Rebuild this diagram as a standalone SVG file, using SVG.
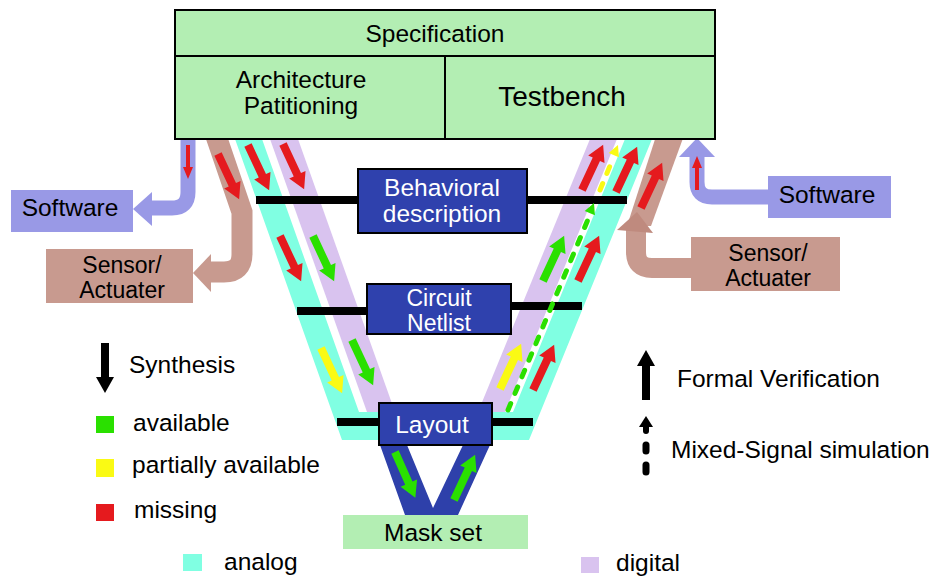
<svg xmlns="http://www.w3.org/2000/svg" width="934" height="577" viewBox="0 0 934 577">
<defs>
<style>
text{font-family:"Liberation Sans",Arial,sans-serif;font-size:24.5px;fill:#000}
.c{text-anchor:middle}
.w{fill:#fff}
.two{font-size:23px}
.box{fill:#2F41AD;stroke:#000;stroke-width:2}
.bar{fill:#000}
.red{fill:#E51A1E}
.grn{fill:#2AE000}
.yel{fill:#FAFA14}
.soft{fill:#9999E6}
.brown{fill:#C89A8F}
.ana{fill:#80FFE2}
.dig{fill:#D9C3EF}
</style>
<path id="ar" d="M-4,0H4V34H9L0,50L-9,34H-4Z"/>
<path id="sa" d="M-2,0H2V22H5L0,34L-5,22H-2Z"/>
</defs>
<rect width="934" height="577" fill="#fff"/>

<g id="bands">
<polygon class="ana" points="235,139 262,139 359,412 513,412 625,139 652,139 529,440 342,440"/>
<polygon class="dig" points="270,139 298,139 395,412 367,412"/>
<polygon class="dig" points="590,139 617,139 505,412 478,412"/>
<polygon fill="#2E40AA" points="380,445 407,445 433,508 463,445 490,445 458,515 405,515"/>
</g>

<g id="connectors">
<path d="M188,130 V192 Q188,208 172,208 H150" fill="none" stroke="#9999E6" stroke-width="15"/>
<polygon class="soft" points="152,192 152,226 133,209"/>
<path d="M214,130 L242,212 V254 Q242,272 224,272 H208" fill="none" stroke="#C89A8F" stroke-width="21"/>
<polygon class="brown" points="211,254 211,292 193,273"/>
<path d="M697,156 V182 Q697,197 712,197 H770" fill="none" stroke="#9999E6" stroke-width="15"/>
<polygon class="soft" points="679,157 715,157 697,138"/>
<polygon class="brown" points="658,130 686,130 651,226 627,226"/>
<path d="M693,268 H652 Q636,268 636,252 V230" fill="none" stroke="#C89A8F" stroke-width="20"/>
<polygon fill="#BF8A7E" points="617,230 653,233 637,212"/>
<rect class="bar" x="256" y="196" width="371" height="8"/>
<rect class="bar" x="297" y="307" width="72" height="8"/>
<rect class="bar" x="509" y="302" width="73" height="8"/>
<rect class="bar" x="337" y="418" width="196" height="8"/>
<use href="#sa" class="red" transform="translate(188,145)"/>
<use href="#ar" class="red" transform="translate(218,154) rotate(-25)"/>
<use href="#ar" class="red" transform="translate(248,145) rotate(-25)"/>
<use href="#ar" class="red" transform="translate(283,144) rotate(-25)"/>
<use href="#ar" class="red" transform="translate(280,236) rotate(-25)"/>
<use href="#ar" class="grn" transform="translate(313,236) rotate(-25)"/>
<use href="#ar" class="yel" transform="translate(321,348) rotate(-25)"/>
<use href="#ar" class="grn" transform="translate(352,340) rotate(-25)"/>
<use href="#ar" class="grn" transform="translate(395,452) rotate(-24)"/>
<use href="#ar" class="grn" transform="translate(454,500) rotate(-155)"/>
<use href="#ar" class="yel" transform="translate(500,389) rotate(-155)"/>
<use href="#ar" class="red" transform="translate(533,390) rotate(-155)"/>
<use href="#ar" class="grn" transform="translate(543,281) rotate(-155)"/>
<use href="#ar" class="red" transform="translate(578,281) rotate(-155)"/>
<use href="#ar" class="red" transform="translate(582,190) rotate(-155)"/>
<use href="#ar" class="red" transform="translate(616,192) rotate(-155)"/>
<use href="#ar" class="red" transform="translate(641,208) rotate(-155)"/>
<use href="#sa" class="red" transform="translate(697,190) rotate(180)"/>
<line x1="508" y1="410" x2="589" y2="217" stroke="#2AE000" stroke-width="5" stroke-linecap="round" stroke-dasharray="7 11"/>
<polygon class="grn" points="594,203 594.9,215.2 584.7,211"/>
<line x1="600" y1="190" x2="612" y2="161" stroke="#FAFA14" stroke-width="5" stroke-linecap="round" stroke-dasharray="7 11"/>
<polygon class="yel" points="618,145 618.9,157.2 608.7,153"/>
</g>

<g id="top">
<rect x="175" y="10" width="540" height="129" fill="#B3EEB3" stroke="#000" stroke-width="2"/>
<line x1="175" y1="56" x2="715" y2="56" stroke="#000" stroke-width="2"/>
<line x1="445" y1="56" x2="445" y2="139" stroke="#000" stroke-width="2"/>
<text class="c" x="435" y="42">Specification</text>
<text class="c" x="301" y="88">Architecture</text>
<text class="c" x="301" y="114">Patitioning</text>
<text class="c" x="562" y="106" style="font-size:28px">Testbench</text>
</g>

<g id="behavioral">
<rect class="box" x="358" y="169" width="169" height="64"/>
<text class="c w" x="442" y="196">Behavioral</text>
<text class="c w" x="442" y="222">description</text>
</g>
<g id="netlist">
<rect class="box" x="367" y="284" width="144" height="50"/>
<text class="c w two" x="439" y="306">Circuit</text>
<text class="c w two" x="439" y="331">Netlist</text>
</g>
<g id="layout">
<rect class="box" x="379" y="403" width="113" height="42"/>
<text class="c w" x="432" y="433">Layout</text>
</g>
<g id="maskset">
<rect x="343" y="515" width="185" height="34" fill="#B3EEB3"/>
<text class="c" x="433" y="541">Mask set</text>
</g>

<g id="software-left">
<rect class="soft" x="11" y="190" width="122" height="42"/>
<text class="c" x="70" y="216">Software</text>
</g>
<g id="sensor-left">
<rect class="brown" x="46" y="249" width="147" height="54"/>
<text class="c two" x="122" y="273">Sensor/</text>
<text class="c two" x="122" y="298">Actuater</text>
</g>
<g id="software-right">
<rect class="soft" x="768" y="176" width="123" height="42"/>
<text class="c" x="827" y="203">Software</text>
</g>
<g id="sensor-right">
<rect class="brown" x="691" y="237" width="149" height="54"/>
<text class="c two" x="768" y="261">Sensor/</text>
<text class="c two" x="768" y="286">Actuater</text>
</g>

<g id="legend">
<use href="#ar" fill="#000" transform="translate(105,343)"/>
<text x="129" y="373">Synthesis</text>
<rect class="grn" x="96" y="416" width="18" height="17"/>
<text x="133" y="431">available</text>
<rect class="yel" x="96" y="459" width="18" height="18"/>
<text x="132" y="473">partially available</text>
<rect class="red" x="96" y="504" width="18" height="17"/>
<text x="134" y="518">missing</text>
<rect class="ana" x="183" y="554" width="19" height="17"/>
<text x="224" y="570">analog</text>
<rect class="dig" x="581" y="557" width="18" height="16"/>
<text x="616" y="571">digital</text>
<use href="#ar" fill="#000" transform="translate(646,400) rotate(180)"/>
<text x="677" y="387">Formal Verification</text>
<polygon fill="#000" points="646,416 639,427 653,427"/>
<line x1="646" y1="426" x2="646" y2="431" stroke="#000" stroke-width="6" stroke-linecap="round"/>
<line x1="646" y1="445" x2="646" y2="451" stroke="#000" stroke-width="7" stroke-linecap="round"/>
<line x1="646" y1="465" x2="646" y2="472" stroke="#000" stroke-width="7" stroke-linecap="round"/>
<text x="671" y="458">Mixed-Signal simulation</text>
</g>
</svg>
